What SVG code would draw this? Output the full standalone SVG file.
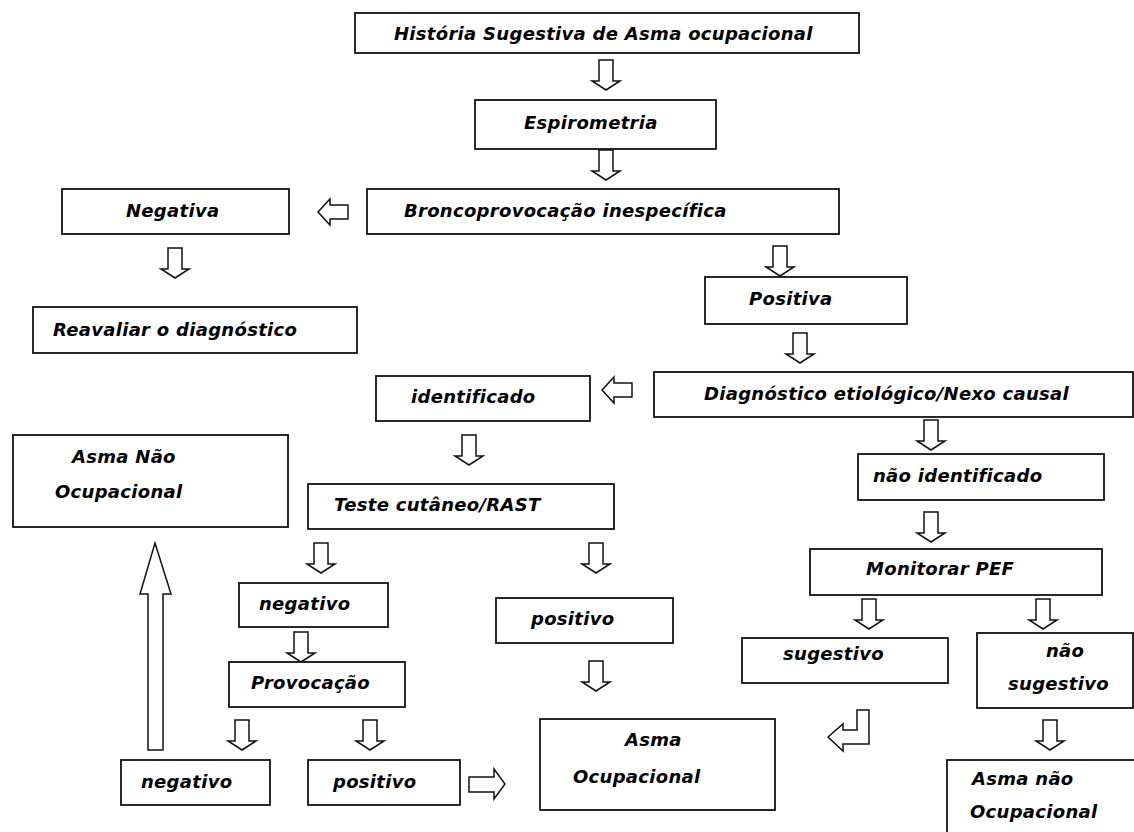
<svg xmlns="http://www.w3.org/2000/svg" xmlns:xlink="http://www.w3.org/1999/xlink" width="1134" height="832" viewBox="0 0 1134 832">
<style>
.box{fill:#fff;stroke:#111;stroke-width:1.8}
.arr{fill:#fff;stroke:#111;stroke-width:1.5;stroke-linejoin:miter}
text{font-family:"DejaVu Sans","Verdana",sans-serif;font-weight:bold;font-style:italic;font-size:18px;letter-spacing:0.3px;fill:#000}
</style>
<defs>
<path id="dn" d="M-7,0 H7 V21 H14 L0,30 L-14,21 H-7 Z"/>
<path id="lf" d="M0,0 L12,-13 V-7 H30 V7 H12 V13 Z"/>
</defs>
<rect width="1134" height="832" fill="#fff"/>
<g id="connectors">
<use xlink:href="#dn" href="#dn" class="arr" transform="translate(606,60)"/>
<use xlink:href="#dn" href="#dn" class="arr" transform="translate(606,150)"/>
<use xlink:href="#dn" href="#dn" class="arr" transform="translate(175,248)"/>
<use xlink:href="#dn" href="#dn" class="arr" transform="translate(780,246)"/>
<use xlink:href="#dn" href="#dn" class="arr" transform="translate(800,333)"/>
<use xlink:href="#dn" href="#dn" class="arr" transform="translate(469,435)"/>
<use xlink:href="#dn" href="#dn" class="arr" transform="translate(931,420)"/>
<use xlink:href="#dn" href="#dn" class="arr" transform="translate(931,512)"/>
<use xlink:href="#dn" href="#dn" class="arr" transform="translate(321,543)"/>
<use xlink:href="#dn" href="#dn" class="arr" transform="translate(596,543)"/>
<use xlink:href="#dn" href="#dn" class="arr" transform="translate(301,632)"/>
<use xlink:href="#dn" href="#dn" class="arr" transform="translate(242,720)"/>
<use xlink:href="#dn" href="#dn" class="arr" transform="translate(370,720)"/>
<use xlink:href="#dn" href="#dn" class="arr" transform="translate(596,661)"/>
<use xlink:href="#dn" href="#dn" class="arr" transform="translate(869,599)"/>
<use xlink:href="#dn" href="#dn" class="arr" transform="translate(1043,599)"/>
<use xlink:href="#dn" href="#dn" class="arr" transform="translate(1050,720)"/>
<use xlink:href="#lf" href="#lf" class="arr" transform="translate(318,212)"/>
<use xlink:href="#lf" href="#lf" class="arr" transform="translate(602,390)"/>
<path class="arr" d="M469,777 H494 V769 L505,784 L494,799 V792 H469 Z"/>
<path class="arr" d="M155,543 L171,594 H163 V750 H148 V594 H140 Z"/>
<path class="arr" d="M857,710 H869 V744 H843 V751 L828,737 L843,724 V730 H857 Z"/>
</g>
<g id="n-historia"><rect class="box" x="355" y="13" width="504" height="40"/><text x="394" y="40">História Sugestiva de Asma ocupacional</text></g>
<g id="n-espirometria"><rect class="box" x="475" y="100" width="241" height="49"/><text x="524" y="129">Espirometria</text></g>
<g id="n-bronco"><rect class="box" x="367" y="189" width="472" height="45"/><text x="404" y="217">Broncoprovocação inespecífica</text></g>
<g id="n-negativa"><rect class="box" x="62" y="189" width="227" height="45"/><text x="126" y="217">Negativa</text></g>
<g id="n-reavaliar"><rect class="box" x="33" y="307" width="324" height="46"/><text x="53" y="336">Reavaliar o diagnóstico</text></g>
<g id="n-positiva"><rect class="box" x="705" y="277" width="202" height="47"/><text x="749" y="305">Positiva</text></g>
<g id="n-diagnostico"><rect class="box" x="654" y="372" width="479" height="45"/><text x="704" y="400">Diagnóstico etiológico/Nexo causal</text></g>
<g id="n-identificado"><rect class="box" x="376" y="376" width="214" height="45"/><text x="411" y="403">identificado</text></g>
<g id="n-asma-nao-ocup-1"><rect class="box" x="13" y="435" width="275" height="92"/><text x="72" y="463">Asma Não</text><text x="55" y="498">Ocupacional</text></g>
<g id="n-teste"><rect class="box" x="308" y="484" width="306" height="45"/><text x="334" y="511">Teste cutâneo/RAST</text></g>
<g id="n-nao-identificado"><rect class="box" x="858" y="454" width="246" height="46"/><text x="873" y="482">não identificado</text></g>
<g id="n-monitorar"><rect class="box" x="810" y="549" width="292" height="46"/><text x="866" y="575">Monitorar PEF</text></g>
<g id="n-negativo-1"><rect class="box" x="239" y="583" width="149" height="44"/><text x="259" y="610">negativo</text></g>
<g id="n-positivo-1"><rect class="box" x="496" y="598" width="177" height="45"/><text x="531" y="625">positivo</text></g>
<g id="n-sugestivo"><rect class="box" x="742" y="638" width="206" height="45"/><text x="783" y="660">sugestivo</text></g>
<g id="n-nao-sugestivo"><rect class="box" x="977" y="633" width="156" height="75"/><text x="1046" y="657">não</text><text x="1008" y="690">sugestivo</text></g>
<g id="n-provocacao"><rect class="box" x="229" y="662" width="176" height="45"/><text x="251" y="689">Provocação</text></g>
<g id="n-asma-ocup"><rect class="box" x="540" y="719" width="235" height="91"/><text x="625" y="746">Asma</text><text x="573" y="783">Ocupacional</text></g>
<g id="n-negativo-2"><rect class="box" x="121" y="760" width="149" height="45"/><text x="141" y="788">negativo</text></g>
<g id="n-positivo-2"><rect class="box" x="308" y="760" width="152" height="45"/><text x="333" y="788">positivo</text></g>
<g id="n-asma-nao-ocup-2"><rect class="box" x="947" y="760" width="200" height="100"/><text x="972" y="785">Asma não</text><text x="970" y="818">Ocupacional</text></g>
</svg>
